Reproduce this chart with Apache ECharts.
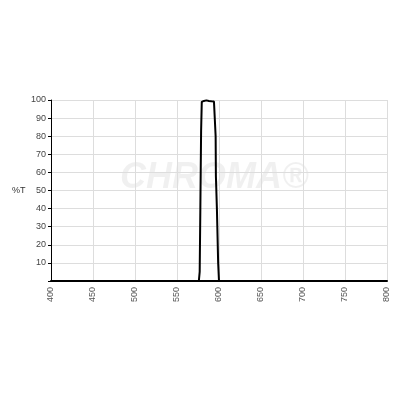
<!DOCTYPE html>
<html>
<head>
<meta charset="utf-8">
<script src="https://cdn.jsdelivr.net/npm/echarts@6/dist/echarts.min.js"></script>
<style>
  html, body { margin: 0; padding: 0; background: #fff; }
  #chart { width: 400px; height: 400px; }
</style>
</head>
<body>
<div id="chart"></div>
<script>
// wavelength (nm) and transmission (%T)
var wavelength = [400, 576, 577, 577.8, 578.7, 579.5, 580, 582, 585, 588, 591, 594, 595.5, 596, 596.3, 597.5, 599, 600, 800];
var transmission = [0, 0, 5, 40, 83, 99, 99.6, 99.5, 99.8, 99.5, 99.3, 99.2, 98.8, 80, 58, 40, 10, 0, 0];
var xTicks = [400, 450, 500, 550, 600, 650, 700, 750, 800];

var points = wavelength.map(function (w, i) { return [w, transmission[i]]; });

var myChart = echarts.init(document.getElementById("chart"));
myChart.setOption({
  animation: false,
  grid: { left: 51, right: 13, top: 100, bottom: 119 },
  graphic: [
    {
      type: "text", left: 12, top: 186,
      style: { text: "%T", fontSize: 9, fill: "#333", fontFamily: "Liberation Sans" }
    },
    {
      type: "text", left: 120, top: 160, z: 0,
      style: {
        text: "CHROMA\u00AE", fontSize: 36, fontStyle: "italic", fontWeight: "bold",
        fill: "rgba(0,0,0,0.06)", fontFamily: "Liberation Sans"
      }
    }
  ],
  xAxis: {
    type: "value",
    min: xTicks[0],
    max: xTicks[xTicks.length - 1],
    interval: 50,
    axisLine: { show: true, lineStyle: { color: "#000", width: 2 } },
    axisTick: { show: false },
    axisLabel: { rotate: 90, fontSize: 9, color: "#555", margin: 6, fontFamily: "Liberation Sans" },
    splitLine: { show: true, lineStyle: { color: "#ddd", width: 1 } }
  },
  yAxis: {
    type: "value",
    min: 0,
    max: 100,
    interval: 10,
    axisLine: { show: true, lineStyle: { color: "#000", width: 1 } },
    axisTick: { show: true, length: 3, lineStyle: { color: "#000" } },
    axisLabel: {
      fontSize: 9, color: "#444", margin: 5, fontFamily: "Liberation Sans",
      formatter: function (v) { return v === 0 ? "" : v; }
    },
    splitLine: { show: true, lineStyle: { color: "#ddd", width: 1 } }
  },
  series: [
    {
      type: "line",
      data: points,
      symbol: "none",
      lineStyle: { color: "#000", width: 2 },
      z: 5
    }
  ]
});
</script>
</body>
</html>
